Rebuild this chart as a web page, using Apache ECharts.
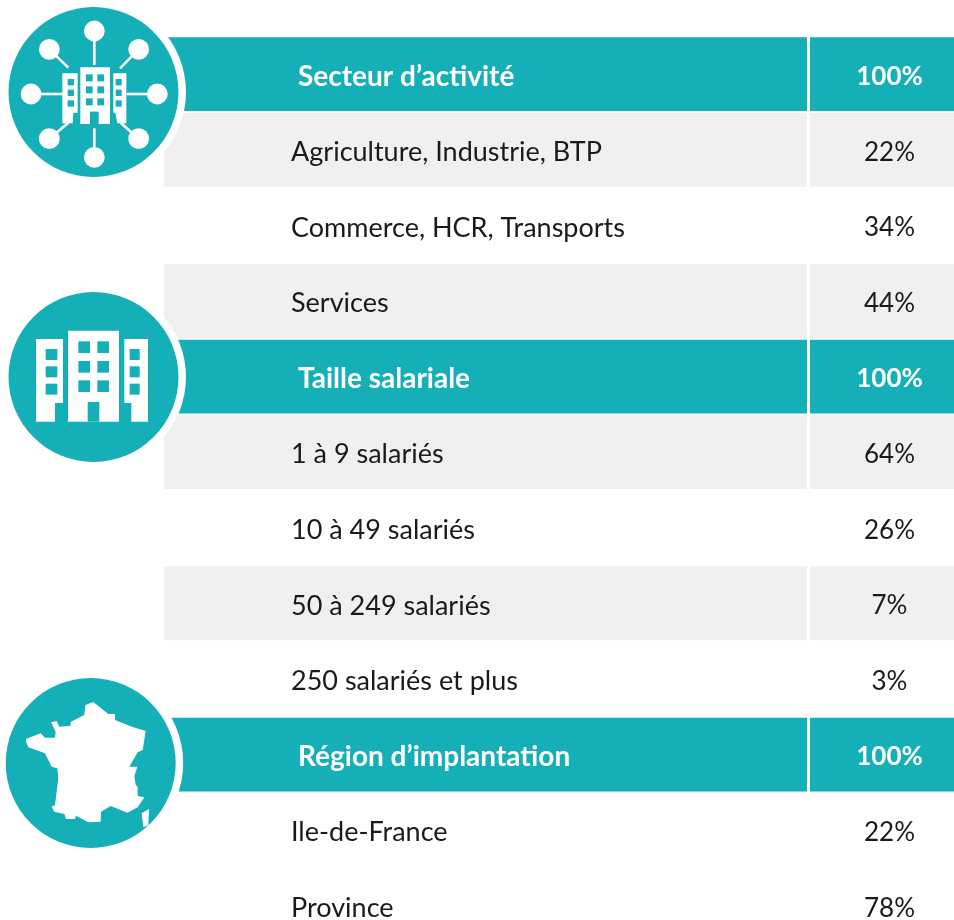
<!DOCTYPE html>
<html>
<head>
<meta charset="utf-8">
<style>
  html, body { margin: 0; padding: 0; background: #fff; overflow: hidden; }
  #chart { width: 954px; height: 920px; }
</style>
<script src="https://cdn.jsdelivr.net/npm/echarts@6/dist/echarts.min.js"></script>
</head>
<body>
<div id="chart"></div>
<script>
var rowLabels = [
  'Secteur d’activité', 'Agriculture, Industrie, BTP', 'Commerce, HCR, Transports', 'Services',
  'Taille salariale', '1 à 9 salariés', '10 à 49 salariés', '50 à 249 salariés', '250 salariés et plus',
  'Région d’implantation', 'Ile-de-France', 'Province'
];
var rowValues = [100, 22, 34, 44, 100, 64, 26, 7, 3, 100, 22, 78];
var headerRows = [0, 4, 9];
var shadedRows = [1, 3, 5, 7];

var TEAL = '#14afb7';
var GREY = '#f0f0f0';
var FONT = 'Lato, "Open Sans", sans-serif';

var chart = echarts.init(document.getElementById('chart'));

function renderRow(params, api) {
  var i = api.value(0);
  var band = api.size([0, 1])[1];
  var cy = api.coord([0, i])[1];
  var top = cy - band / 2;
  var isHeader = headerRows.indexOf(i) >= 0;
  var fill = isHeader ? TEAL : (shadedRows.indexOf(i) >= 0 ? GREY : null);
  var children = [];
  if (fill) {
    children.push({ type: 'rect', shape: { x: 164, y: top, width: 643, height: band - 1.8 }, style: { fill: fill } });
    children.push({ type: 'rect', shape: { x: 810, y: top, width: 144, height: band - 1.8 }, style: { fill: fill } });
  }
  var textY = cy + 1.5;
  var labelFont = isHeader ? 'bold 28px ' + FONT : '27px ' + FONT;
  var valueFont = (isHeader ? 'bold ' : '') + '26px ' + FONT;
  var color = isHeader ? '#fff' : '#1a1a1a';
  children.push({
    type: 'text',
    style: { x: isHeader ? 298 : 291, y: textY, text: rowLabels[i], font: labelFont, fill: color, align: 'left', verticalAlign: 'middle' }
  });
  children.push({
    type: 'text',
    style: { x: 889.5, y: textY, text: api.value(1) + '%', font: valueFont, fill: color, align: 'center', verticalAlign: 'middle' }
  });
  return { type: 'group', children: children };
}

// icons, drawn over the table. coordinates below are in 3x zoom units of each icon's box
function rect(ox, oy, x0, y0, x1, y1, fill) {
  return { type: 'rect', z: 20, shape: { x: ox + x0 / 3, y: oy + y0 / 3, width: (x1 - x0) / 3, height: (y1 - y0) / 3 }, style: { fill: fill } };
}

function poly(ox, oy, pts, fill) {
  return {
    type: 'polygon', z: 20,
    shape: { points: pts.map(function(p) { return [ox + p[0] / 3, oy + p[1] / 3]; }) },
    style: { fill: fill }
  };
}

function disc(cx, cy, r, fill) {
  return { type: 'circle', z: 10, shape: { cx: cx, cy: cy, r: r }, style: { fill: fill } };
}

function networkIcon() {
  var out = [disc(93.5, 92, 92.5, '#fff'), disc(93.5, 92, 85, TEAL)];
  var nodes = [
    [283, 93, 283, 195], [148, 148, 205, 203], [416, 148, 360, 205], [93, 282, 187, 282],
    [472, 282, 380, 282], [148, 416, 205, 368], [416, 416, 362, 368], [283, 472, 283, 385]
  ];
  nodes.forEach(function(n) {
    out.push({ type: 'line', z: 20, shape: { x1: n[0] / 3, y1: n[1] / 3, x2: n[2] / 3, y2: n[3] / 3 }, style: { stroke: '#fff', lineWidth: 2.6 } });
    out.push({ type: 'circle', z: 20, shape: { cx: n[0] / 3, cy: n[1] / 3, r: 10.4 }, style: { fill: '#fff' } });
  });
  out.push(rect(0, 0, 241, 202, 330, 372, '#fff'));
  out.push(rect(0, 0, 270, 335, 296, 372, TEAL));
  out.push(poly(0, 0, [[187, 220], [233, 220], [233, 338], [220, 338], [218, 370], [187, 370]], '#fff'));
  out.push(poly(0, 0, [[340, 220], [379, 220], [379, 370], [352, 370], [346, 338], [340, 338]], '#fff'));
  [223, 259, 295].forEach(function(y) {
    out.push(rect(0, 0, 258, y, 278, y + 21, TEAL));
    out.push(rect(0, 0, 292, y, 312, y + 21, TEAL));
  });
  [237, 269, 301].forEach(function(y) {
    out.push(rect(0, 0, 203, y, 222, y + 19, TEAL));
    out.push(rect(0, 0, 347, y, 365, y + 19, TEAL));
  });
  return out;
}

function buildingsIcon() {
  var oy = 280;
  var out = [disc(93.5, 377, 92.5, '#fff'), disc(93.5, 377, 85, TEAL)];
  out.push(rect(0, oy, 204, 152, 357, 425, '#fff'));
  out.push(rect(0, oy, 263, 366, 298, 425, TEAL));
  out.push(poly(0, oy, [[108, 177], [189, 177], [189, 369], [165, 369], [165, 425], [108, 425]], '#fff'));
  out.push(poly(0, oy, [[373, 177], [444, 177], [444, 425], [394, 425], [394, 369], [373, 369]], '#fff'));
  [184, 243, 301].forEach(function(y) {
    out.push(rect(0, oy, 235, y, 270, y + 35, TEAL));
    out.push(rect(0, oy, 292, y, 327, y + 35, TEAL));
  });
  [207, 259, 311].forEach(function(y) {
    out.push(rect(0, oy, 137, y, 172, y + 33, TEAL));
    out.push(rect(0, oy, 389, y, 419, y + 33, TEAL));
  });
  return out;
}

function franceIcon() {
  var oy = 670;
  var out = [disc(90.7, 763, 92.5, '#fff'), disc(90.7, 763, 85, TEAL)];
  out.push(poly(0, oy, [
    [78, 207], [122, 190], [135, 203], [165, 203], [167, 185], [153, 157], [170, 153], [178, 170],
    [210, 168], [213, 155], [253, 135], [256, 105], [280, 96], [325, 132], [345, 132], [345, 150],
    [400, 172], [437, 183], [428, 240], [413, 247], [388, 290], [412, 290], [403, 318], [407, 345],
    [413, 350], [413, 378], [433, 382], [413, 412], [382, 428], [332, 408], [303, 425], [302, 455],
    [265, 457], [228, 437], [225, 447], [198, 447], [193, 432], [163, 425], [155, 410], [165, 405],
    [175, 325], [172, 295], [155, 290], [135, 250], [85, 232], [78, 215]
  ], '#fff'));
  out.push(poly(0, oy, [[425, 430], [447, 417], [445, 465], [430, 472]], '#fff'));
  return out;
}

// the last row runs past the bottom of the page, so the y axis stops part way through it
var option = {
  animation: false,
  backgroundColor: '#fff',
  graphic: { elements: networkIcon().concat(buildingsIcon(), franceIcon()) },
  grid: { left: 164, top: 37.3, right: 0, bottom: 0 },
  xAxis: { type: 'value', min: 0, max: 790, show: false },
  yAxis: { type: 'value', inverse: true, min: -0.5, max: (920 - 37.3) / 75.6 - 0.5, show: false },
  series: [{
    type: 'custom',
    clip: false,
    renderItem: renderRow,
    data: rowValues.map(function(v, i) { return [i, v]; }),
    encode: { x: 1, y: 0 }
  }]
};

chart.setOption(option);
</script>
</body>
</html>
